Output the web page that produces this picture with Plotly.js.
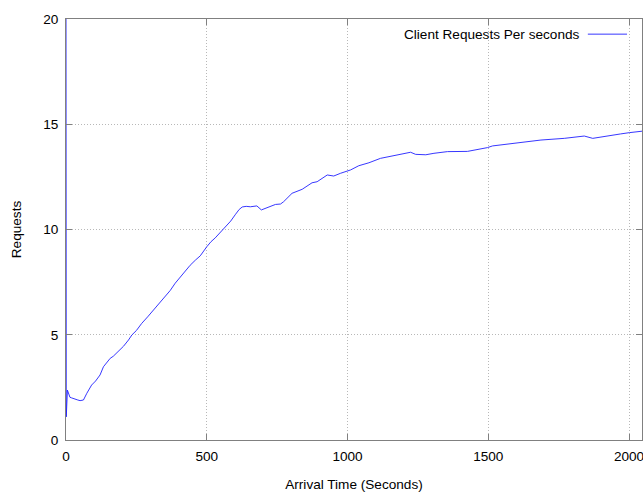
<!DOCTYPE html>
<html>
<head>
<meta charset="utf-8">
<script src="https://cdn.plot.ly/plotly-3.0.1.min.js"></script>
<style>html,body{margin:0;padding:0;background:#fff;}#chart{width:643px;height:494px;}</style>
</head>
<body>
<div id="chart"></div>
<script>
const seriesName = "Client Requests Per seconds";
const arrivalTime = [0, 1, 5, 10, 14, 20, 32, 42, 50, 62, 74, 91, 105, 121, 133, 145, 157, 168, 186, 204, 222, 234, 250, 269, 290, 311, 330, 346, 370, 388, 406, 425, 441, 460, 477, 500, 515, 530, 550, 566, 585, 601, 615, 626, 640, 655, 678, 694, 720, 744, 762, 773, 803, 827, 839, 874, 892, 928, 951, 975, 1011, 1040, 1076, 1117, 1177, 1224, 1242, 1278, 1307, 1355, 1426, 1473, 1497, 1515, 1592, 1640, 1687, 1770, 1822, 1841, 1871, 1900, 1924, 1970, 2001, 2046];
const requests = [20, 1.1, 2.37, 2.15, 2.03, 2.0, 1.93, 1.9, 1.87, 1.9, 2.22, 2.61, 2.8, 3.09, 3.48, 3.7, 3.88, 3.98, 4.2, 4.45, 4.75, 4.99, 5.2, 5.54, 5.85, 6.18, 6.45, 6.73, 7.1, 7.45, 7.74, 8.05, 8.3, 8.55, 8.75, 9.18, 9.42, 9.6, 9.9, 10.15, 10.4, 10.7, 10.95, 11.07, 11.1, 11.08, 11.12, 10.93, 11.08, 11.19, 11.21, 11.32, 11.72, 11.84, 11.91, 12.22, 12.27, 12.59, 12.54, 12.67, 12.83, 13.03, 13.17, 13.38, 13.54, 13.67, 13.57, 13.55, 13.62, 13.7, 13.71, 13.81, 13.89, 13.97, 14.09, 14.18, 14.25, 14.33, 14.42, 14.44, 14.33, 14.4, 14.46, 14.54, 14.6, 14.67];
const xTickVals = [0, 500, 1000, 1500, 2000];
const yTickVals = [0, 5, 10, 15, 20];
const xTitle = "Arrival Time (Seconds)";
const yTitle = "Requests";

const font = {family: "Liberation Sans, Arial, sans-serif", size: 13.6, color: "#000"};
const axisCommon = {
  showline: true, linecolor: "#808080", linewidth: 1, mirror: "allticks",
  ticks: "inside", ticklen: 6, tickcolor: "#808080", tickwidth: 1,
  showgrid: true, gridcolor: "#b8b8b8", griddash: "1px,2px", gridwidth: 1,
  zeroline: false, tickfont: font, ticklabeloverflow: "allow"
};
const trace = {
  x: arrivalTime, y: requests, type: "scatter", mode: "lines",
  name: seriesName, line: {color: "#2020ff", width: 0.9}, showlegend: false
};
const layout = {
  width: 643, height: 494,
  margin: {l: 66, r: 1, t: 19, b: 54},
  paper_bgcolor: "#fff", plot_bgcolor: "#fff",
  font: font,
  xaxis: Object.assign({}, axisCommon, {range: [0, 2046], tickvals: xTickVals, ticklabelstandoff: 4,
    title: {text: xTitle, font: font, standoff: 16}}),
  yaxis: Object.assign({}, axisCommon, {range: [0, 20], tickvals: yTickVals, ticklabelstandoff: 4,
    title: {text: yTitle, font: font, standoff: 18}}),
  annotations: [{xref: "paper", yref: "paper", x: 0.895, y: 0.964, xanchor: "right", yanchor: "middle",
    text: seriesName, showarrow: false, font: font}],
  shapes: [{type: "line", xref: "paper", yref: "paper", x0: 0.906, x1: 0.974, y0: 0.964, y1: 0.964,
    line: {color: "#2020ff", width: 0.9}}]
};
Plotly.newPlot("chart", [trace], layout, {displayModeBar: false, staticPlot: true});
</script>
</body>
</html>
